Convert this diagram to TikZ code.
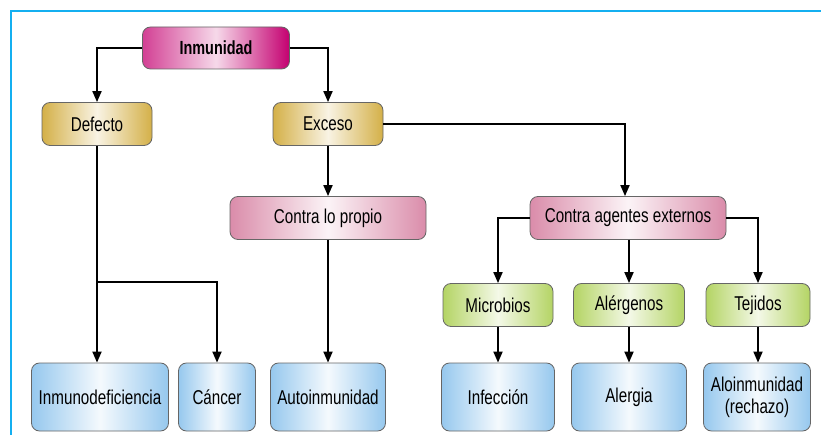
\documentclass[tikz,border=0pt]{standalone}
\usepackage{fontspec}
\setmainfont[FakeStretch=0.76]{Liberation Sans}
\usetikzlibrary{arrows.meta}
\definecolor{frameblue}{RGB}{20,175,240}
\definecolor{cmag}{RGB}{196,0,112}
\definecolor{cgold}{RGB}{212,176,72}
\definecolor{cpink}{RGB}{218,140,170}
\definecolor{cgreen}{RGB}{180,212,100}
\definecolor{cblue}{RGB}{150,200,238}
\tikzset{
  box/.style={draw=black!60, line width=0.8pt, rounded corners=8pt, inner sep=0pt,
    font=\fontsize{20}{22}\selectfont, align=center},
  magbox/.style={box, left color=cmag!75, right color=cmag, middle color=white!85!cmag, minimum width=147pt, minimum height=42pt, font=\fontsize{19}{21}\selectfont\bfseries},
  goldbox/.style={box, left color=cgold, right color=cgold, middle color=white!85!cgold, minimum width=110pt, minimum height=43pt},
  pinkbox/.style={box, left color=cpink, right color=cpink, middle color=white!90!cpink, minimum width=196pt, minimum height=43pt},
  greenbox/.style={box, left color=cgreen, right color=cgreen, middle color=white!85!cgreen, minimum height=43pt},
  bluebox/.style={box, left color=cblue, right color=cblue, middle color=white!90!cblue, minimum height=68pt},
  conn/.style={draw=black, line width=1.8pt, -{Triangle[length=11pt,width=9pt]}},
}
\begin{document}
\begin{tikzpicture}[x=1pt,y=-1pt]
\useasboundingbox (0,0) rectangle (821,435);
\fill[white] (0,0) rectangle (821,435);
\draw[frameblue, line width=2.5pt] (11,435) -- (11,11) -- (821,11);

\node[magbox] (inm) at (216,48) {Inmunidad};
\node[goldbox] (def) at (97,124) {Defecto};
\node[goldbox] (exc) at (328,124) {Exceso};
\node[pinkbox] (prop) at (328,218) {Contra lo propio};
\node[pinkbox] (ext) at (628,218) {Contra agentes externos};
\node[greenbox, minimum width=110pt] (mic) at (498,305) {Microbios};
\node[greenbox, minimum width=111pt] (alg) at (629,305) {Alérgenos};
\node[greenbox, minimum width=104pt] (tej) at (758,305) {Tejidos};
\node[bluebox, minimum width=137pt] (inmd) at (100,397) {Inmunodeficiencia};
\node[bluebox, minimum width=77pt] (can) at (217,397) {Cáncer};
\node[bluebox, minimum width=115pt] (auto) at (328,397) {Autoinmunidad};
\node[bluebox, minimum width=113pt] (inf) at (498,397) {Infección};
\node[bluebox, minimum width=115pt] (alr) at (629,397) {Alergia};
\node[bluebox, minimum width=107pt] (alo) at (757,397) {Aloinmunidad\\(rechazo)};

\coordinate (br) at (97,282);
\coordinate (ex) at (625,124);

\draw[conn] (inm.west) -| (def.north);
\draw[conn] (inm.east) -| (exc.north);
\draw[conn] (def.south) -- (def.south |- inmd.north);
\draw[conn] (br) -| (can.north);
\draw[conn] (exc.south) -- (prop.north);
\draw[conn] (exc.east) -- (ex) -- (ext.north -| ex);
\draw[conn] (prop.south) -- (auto.north);
\draw[conn] (ext.west) -| (mic.north);
\draw[conn] (ext.south -| alg.north) -- (alg.north);
\draw[conn] (ext.east) -| (tej.north);
\draw[conn] (mic.south) -- (inf.north);
\draw[conn] (alg.south) -- (alr.north);
\draw[conn] (tej.south) -- (tej.south |- alo.north);
\end{tikzpicture}
\end{document}
